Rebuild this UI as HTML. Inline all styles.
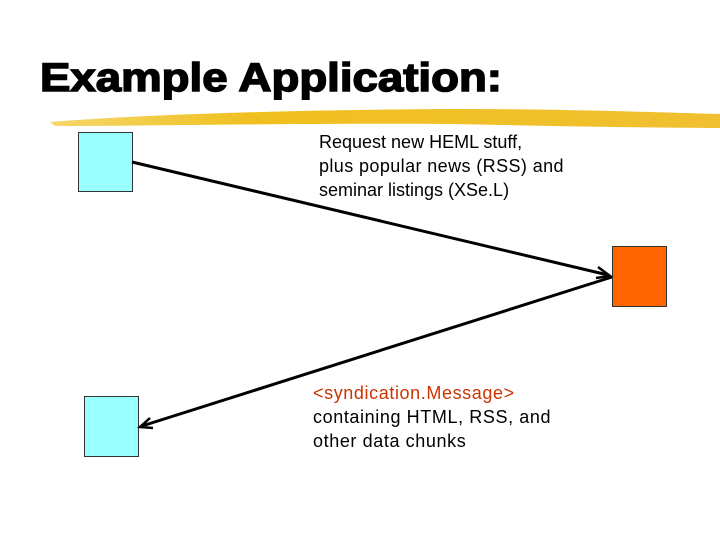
<!DOCTYPE html>
<html><head><style>
body{margin:0;width:720px;height:540px;background:#fff;position:relative;overflow:hidden;font-family:"Liberation Sans",Arial,sans-serif}
.t{position:absolute;left:40px;top:56px;font-size:40px;font-weight:bold;color:#000;transform:scaleX(1.14);transform-origin:0 0;-webkit-text-stroke:1.5px #000}
.x{position:absolute;font-size:18px;line-height:24px;color:#000}
</style></head><body>
<svg width="720" height="540" style="position:absolute;left:0;top:0">
<defs><linearGradient id="g" x1="0" x2="1"><stop offset="0" stop-color="#f5d76a"/><stop offset="0.3" stop-color="#f0c020"/><stop offset="1" stop-color="#f0c030"/></linearGradient></defs>
<path d="M50 122 C150 114 300 110 450 109 C560 109 650 112 720 114 L720 128 C650 128 560 126 450 124 C300 123 150 126 55 126 Z" fill="url(#g)"/>
<rect x="78.5" y="132.5" width="54" height="59" fill="#99ffff" stroke="#333"/>
<rect x="612.5" y="246.5" width="54" height="60" fill="#ff6600" stroke="#333"/>
<rect x="84.5" y="396.5" width="54" height="60" fill="#99ffff" stroke="#333"/>
<g stroke="#000" stroke-width="3" fill="none">
<line x1="132" y1="162" x2="608" y2="275"/>
<line x1="612" y1="277" x2="142" y2="426"/>
<path d="M598 267 L610 276 L596 278" stroke-width="2.5"/>
<path d="M150 418 L140 427 L153 428" stroke-width="2.5"/>
</g>
</svg>
<div class="t">Example Application:</div>
<div class="x" style="left:319px;top:130px">Request new HEML stuff,<br><span style="letter-spacing:0.4px">plus popular news (RSS) and</span><br>seminar listings (XSe.L)</div>
<div class="x" style="left:313px;top:381px;letter-spacing:0.6px"><span style="color:#cc3300">&lt;syndication.Message&gt;</span><br>containing HTML, RSS, and<br>other data chunks</div>
</body></html>
